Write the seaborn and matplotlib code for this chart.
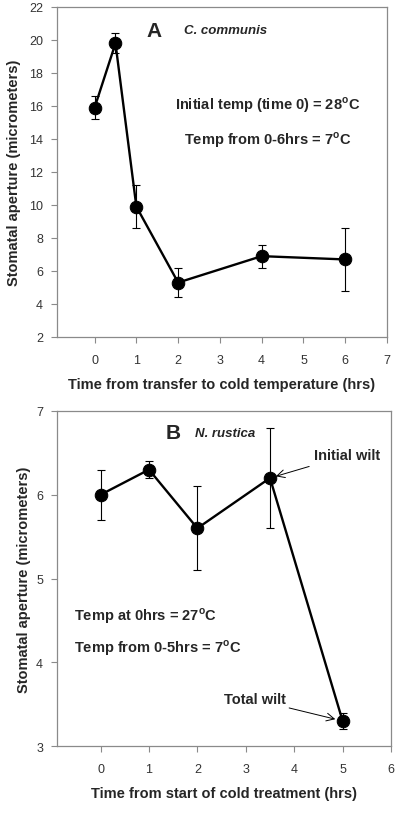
import numpy as np
import pandas as pd
import seaborn as sns
import matplotlib.pyplot as plt

# Panel A - C. communis
time_a = [0, 0.5, 1, 2, 4, 6]
aperture_a = [15.9, 19.8, 9.9, 5.3, 6.9, 6.7]
err_a = [0.7, 0.6, 1.3, 0.9, 0.7, 1.9]

# Panel B - N. rustica
time_b = [0, 1, 2, 3.5, 5]
aperture_b = [6.0, 6.3, 5.6, 6.2, 3.3]
err_b = [0.3, 0.1, 0.5, 0.6, 0.1]

sns.set_style("ticks")
plt.rcParams['font.family'] = ['Liberation Sans', 'DejaVu Sans']

fig = plt.figure(figsize=(4, 8.2), dpi=100)
ax_a = fig.add_axes([57 / 400, 1 - 338 / 820, 330 / 400, 330 / 820])
ax_b = fig.add_axes([57 / 400, 1 - 747 / 820, 334 / 400, 335 / 820])


def draw_panel(ax, x, y, err):
    df = pd.DataFrame({"time": x, "aperture": y})
    ax.errorbar(x, y, yerr=err, fmt="none", ecolor="black", elinewidth=0.8,
                capsize=3, capthick=0.8, zorder=2)
    sns.lineplot(data=df, x="time", y="aperture", ax=ax, color="black",
                 linewidth=1.7, marker="o", markersize=9,
                 markerfacecolor="black", markeredgecolor="black", zorder=3)
    for side in ["left", "bottom", "top", "right"]:
        ax.spines[side].set_color("#8a8a8a")
        ax.spines[side].set_linewidth(0.9)
    ax.tick_params(direction="out", length=4, width=0.8, color="#8a8a8a",
                   labelsize=9, labelcolor="#333333", pad=6)
    ax.tick_params(axis="x", pad=8)


draw_panel(ax_a, time_a, aperture_a, err_a)
ax_a.set_xlim(-0.9, 7)
ax_a.set_ylim(2, 22)
ax_a.set_xticks(range(0, 8))
ax_a.set_yticks(range(2, 23, 2))
ax_a.set_xlabel("Time from transfer to cold temperature (hrs)",
                fontsize=10.5, fontweight="bold", labelpad=8)
ax_a.set_ylabel("Stomatal aperture (micrometers)", fontsize=10.5,
                fontweight="bold", labelpad=6)
ax_a.text(1.25, 20.6, "A", fontsize=15, fontweight="bold", va="center")
ax_a.text(2.15, 20.6, "C. communis", fontsize=9.5, fontweight="bold",
          style="italic", va="center")
ax_a.text(4.15, 16.1, "Initial temp (time 0) = 28$^\\mathregular{o}$C",
          fontsize=10.5, fontweight="bold", ha="center", va="center")
ax_a.text(4.15, 14.0, "Temp from 0-6hrs = 7$^\\mathregular{o}$C",
          fontsize=10.5, fontweight="bold", ha="center", va="center")

draw_panel(ax_b, time_b, aperture_b, err_b)
ax_b.set_xlim(-0.9, 6)
ax_b.set_ylim(3, 7)
ax_b.set_xticks(range(0, 7))
ax_b.set_yticks(range(3, 8))
ax_b.set_xlabel("Time from start of cold treatment (hrs)",
                fontsize=10.5, fontweight="bold", labelpad=8)
ax_b.set_ylabel("Stomatal aperture (micrometers)", fontsize=10.5,
                fontweight="bold", labelpad=4)
ax_b.text(1.35, 6.74, "B", fontsize=15, fontweight="bold", va="center")
ax_b.text(1.95, 6.74, "N. rustica", fontsize=9.5, fontweight="bold",
          style="italic", va="center")
ax_b.text(-0.55, 4.56, "Temp at 0hrs = 27$^\\mathregular{o}$C",
          fontsize=10.5, fontweight="bold", va="center")
ax_b.text(-0.55, 4.18, "Temp from 0-5hrs = 7$^\\mathregular{o}$C",
          fontsize=10.5, fontweight="bold", va="center")
ax_b.annotate("Initial wilt", xy=(3.62, 6.22), xytext=(4.4, 6.47),
              fontsize=10.5, fontweight="bold", va="center",
              arrowprops=dict(arrowstyle="->", color="black", lw=0.7,
                              shrinkA=2, shrinkB=0, mutation_scale=14))
ax_b.annotate("Total wilt", xy=(4.85, 3.32), xytext=(2.55, 3.56),
              fontsize=10.5, fontweight="bold", va="center",
              arrowprops=dict(arrowstyle="->", color="black", lw=0.7,
                              shrinkA=0, shrinkB=0, mutation_scale=14,
                              relpos=(0.93, 0.0)))

fig.savefig("out.png", dpi=100)
